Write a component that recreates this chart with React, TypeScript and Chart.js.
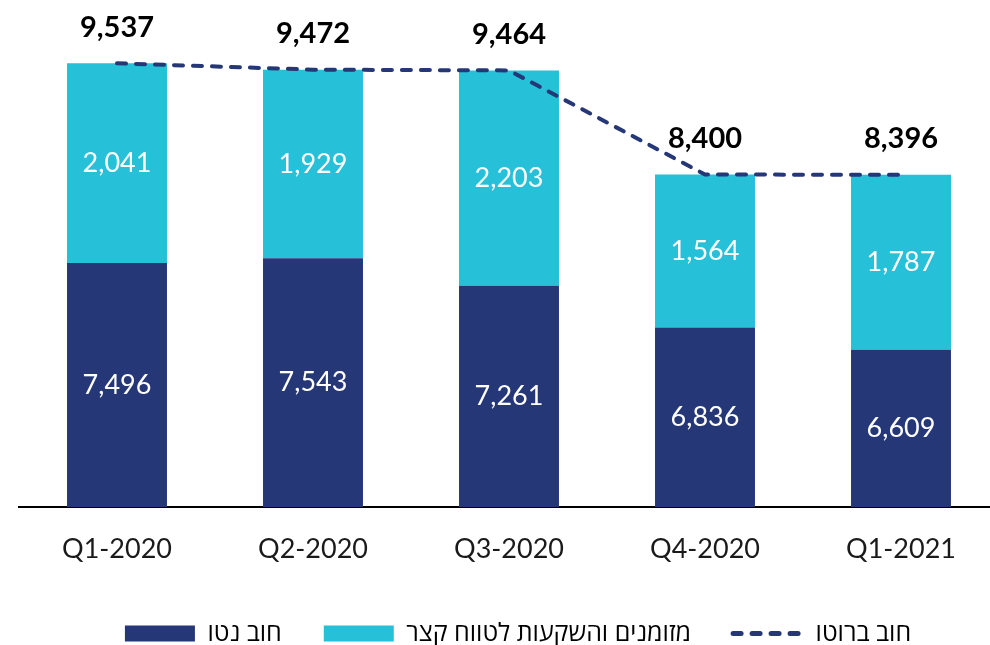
import { useEffect, useRef } from 'react';
import { Chart, registerables } from 'chart.js';

Chart.register(...registerables);

const categories = ['Q1-2020', 'Q2-2020', 'Q3-2020', 'Q4-2020', 'Q1-2021'];
const netDebt = [7496, 7543, 7261, 6836, 6609];
const cashShortTerm = [2041, 1929, 2203, 1564, 1787];
const grossDebt = [9537, 9472, 9464, 8400, 8396];
const seriesNames = ['חוב נטו', 'מזומנים והשקעות לטווח קצר', 'חוב ברוטו'];
const yMin = 5000;
const yMax = 10000;

const NAVY = '#253776';
const CYAN = '#26C0D8';
const FONT = 'Lato, "Open Sans", "Liberation Sans", sans-serif';
const LEGEND_FONT = '"Open Sans", "DejaVu Sans", sans-serif';

const fmt = (v: number) => v.toLocaleString('en-US');

const labelPlugin = {
  id: 'valueLabels',
  afterDatasetsDraw(chart: any) {
    const ctx = chart.ctx;
    const bottom = chart.chartArea.bottom;
    ctx.save();
    ctx.textAlign = 'center';
    ctx.textBaseline = 'middle';
    [0, 1].forEach((di) => {
      const meta = chart.getDatasetMeta(di);
      meta.data.forEach((bar: any, i: number) => {
        const p = bar.getProps(['x', 'y', 'base'], true);
        const base = Math.min(p.base, bottom);
        ctx.fillStyle = '#ffffff';
        ctx.font = `400 27px ${FONT}`;
        ctx.fillText(fmt(chart.data.datasets[di].data[i]), p.x, (p.y + base) / 2);
      });
    });
    const lineMeta = chart.getDatasetMeta(2);
    lineMeta.data.forEach((pt: any, i: number) => {
      ctx.fillStyle = '#000000';
      ctx.font = `700 29px ${FONT}`;
      ctx.fillText(fmt(grossDebt[i]), pt.x, pt.y - 36);
    });
    ctx.restore();
  },
};

export default function App() {
  const ref = useRef<HTMLCanvasElement>(null);

  useEffect(() => {
    if (!ref.current) return;
    const chart = new Chart(ref.current, {
      type: 'bar',
      data: {
        labels: categories,
        datasets: [
          {
            type: 'bar',
            label: seriesNames[0],
            data: netDebt,
            backgroundColor: NAVY,
            borderWidth: 0,
            pointStyle: 'rect',
            order: 1,
            stack: 's',
          } as any,
          {
            type: 'bar',
            label: seriesNames[1],
            data: cashShortTerm,
            backgroundColor: CYAN,
            borderWidth: 0,
            pointStyle: 'rect',
            order: 1,
            stack: 's',
          } as any,
          {
            type: 'line',
            label: seriesNames[2],
            data: grossDebt,
            borderColor: NAVY,
            backgroundColor: NAVY,
            borderWidth: 4,
            borderDash: [9, 10],
            borderCapStyle: 'round',
            pointRadius: 0,
            pointHoverRadius: 0,
            pointStyle: 'line',
            tension: 0,
            fill: false,
            order: 0,
          } as any,
        ],
      },
      options: {
        responsive: false,
        maintainAspectRatio: false,
        animation: false,
        layout: { padding: { left: 19, right: 13, top: 18, bottom: 0 } },
        datasets: {
          bar: { categoryPercentage: 1, barPercentage: 0.51 },
        },
        scales: {
          x: {
            stacked: true,
            grid: { display: false, drawTicks: false },
            border: { display: true, color: '#000000', width: 2 },
            ticks: {
              color: '#1a1a1a',
              font: { family: FONT, size: 27 },
              padding: 26,
            },
            afterFit: (s: any) => {
              s.height = 72;
            },
          },
          y: {
            stacked: true,
            position: 'right',
            min: yMin,
            max: yMax,
            grid: { display: false, drawTicks: false },
            border: { display: false },
            ticks: { display: false },
            afterFit: (s: any) => {
              s.width = 18;
            },
          },
        },
        plugins: {
          tooltip: { enabled: false },
          legend: {
            position: 'bottom',
            maxHeight: 66,
            labels: {
              usePointStyle: true,
              pointStyleWidth: 70,
              boxHeight: 16,
              color: '#000000',
              font: { family: LEGEND_FONT, size: 25 },
              padding: 42,
              sort: (a: any, b: any) => a.datasetIndex - b.datasetIndex,
              generateLabels: (chart: any) => {
                const items = Chart.defaults.plugins.legend.labels.generateLabels(chart);
                items.forEach((it: any) => {
                  if (it.datasetIndex === 2) {
                    it.lineDash = [8, 11];
                    it.lineWidth = 5;
                    it.lineCap = 'round';
                    it.strokeStyle = NAVY;
                  } else {
                    it.lineWidth = 0;
                  }
                });
                return items;
              },
            },
          },
        },
      },
      plugins: [labelPlugin],
    });
    return () => chart.destroy();
  }, []);

  return (
    <div style={{ position: 'fixed', left: 0, top: 0, width: 990, height: 645, overflow: 'hidden', background: '#fff' }}>
      <canvas ref={ref} width={1030} height={645} style={{ display: 'block' }} />
    </div>
  );
}
